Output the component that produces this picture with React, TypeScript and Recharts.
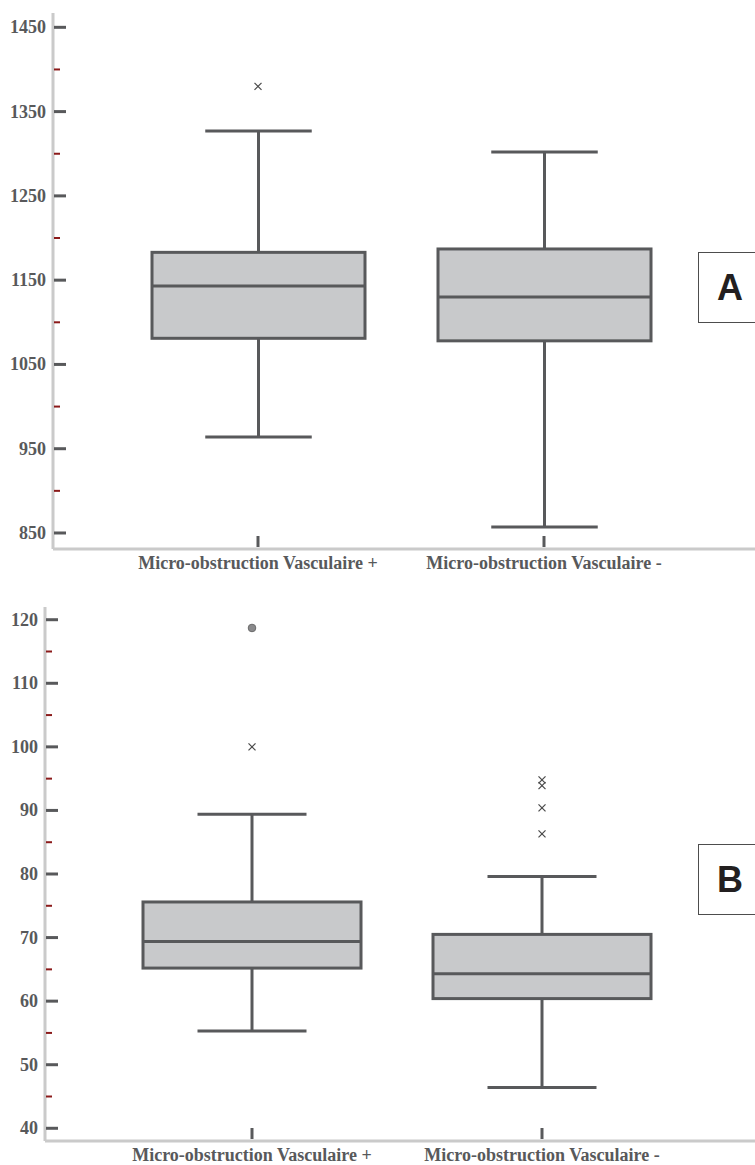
import React from 'react';
import { ComposedChart, Bar, Line, XAxis, YAxis } from 'recharts';

const categories = ['Micro-obstruction Vasculaire +', 'Micro-obstruction Vasculaire -'];

// Chart A
const minA = [964, 857];
const q1A = [1081, 1078];
const medianA = [1143, 1130];
const q3A = [1183, 1187];
const maxA = [1327, 1302];
const crossA: number[][] = [[1380], []];
const circleA: number[][] = [[], []];
const ticksA = [850, 900, 950, 1000, 1050, 1100, 1150, 1200, 1250, 1300, 1350, 1400, 1450];
const majorTicksA = [850, 950, 1050, 1150, 1250, 1350, 1450];
const domainA = [831, 1467];

// Chart B
const minB = [55.3, 46.4];
const q1B = [65.2, 60.4];
const medianB = [69.4, 64.3];
const q3B = [75.6, 70.5];
const maxB = [89.4, 79.6];
const crossB: number[][] = [[100], [94.8, 93.9, 90.4, 86.3]];
const circleB: number[][] = [[118.7], []];
const ticksB = [40, 45, 50, 55, 60, 65, 70, 75, 80, 85, 90, 95, 100, 105, 110, 115, 120];
const majorTicksB = [40, 50, 60, 70, 80, 90, 100, 110, 120];
const domainB = [38, 122];

const STROKE = '#58595b';
const AXIS = '#cacaca';
const FILL = '#c8c9cb';

function buildRows(min: number[], q1: number[], med: number[], q3: number[], max: number[], cross: number[][], circle: number[][]) {
  return categories.map((cat, i) => {
    const row: any = { cat, range: [min[i], max[i]], min: min[i], q1: q1[i], med: med[i], q3: q3[i], max: max[i] };
    for (let k = 0; k < 4; k++) row['x' + k] = cross[i][k] ?? null;
    row.c0 = circle[i][0] ?? null;
    return row;
  });
}

const BoxShape = (props: any) => {
  const { x, y, width, height, payload } = props;
  if (x == null || y == null) return <g />;
  const top = Math.min(y, y + height);
  const h = Math.abs(height);
  const lo = payload.min;
  const hi = payload.max;
  const py = (v: number) => top + ((hi - v) / (hi - lo)) * h;
  const cx = x + width / 2;
  const cap = width / 4;
  const yMax = py(hi), yQ3 = py(payload.q3), yMed = py(payload.med), yQ1 = py(payload.q1), yMin = py(lo);
  return (
    <g>
      <line x1={cx} x2={cx} y1={yMax} y2={yQ3} stroke={STROKE} strokeWidth={3} />
      <line x1={cx} x2={cx} y1={yQ1} y2={yMin} stroke={STROKE} strokeWidth={3} />
      <line x1={cx - cap} x2={cx + cap} y1={yMax} y2={yMax} stroke={STROKE} strokeWidth={3} />
      <line x1={cx - cap} x2={cx + cap} y1={yMin} y2={yMin} stroke={STROKE} strokeWidth={3} />
      <rect x={x} y={yQ3} width={width} height={yQ1 - yQ3} fill={FILL} stroke={STROKE} strokeWidth={3} />
      <line x1={x} x2={x + width} y1={yMed} y2={yMed} stroke={STROKE} strokeWidth={3} />
    </g>
  );
};

const CrossDot = (props: any) => {
  const { cx, cy, value } = props;
  if (value == null || cy == null || Number.isNaN(cy)) return <g key={props.key} />;
  const s = 3.5;
  return (
    <g key={props.key}>
      <line x1={cx - s} x2={cx + s} y1={cy - s} y2={cy + s} stroke="#4a4a4a" strokeWidth={1.2} />
      <line x1={cx - s} x2={cx + s} y1={cy + s} y2={cy - s} stroke="#4a4a4a" strokeWidth={1.2} />
    </g>
  );
};

const CircleDot = (props: any) => {
  const { cx, cy, value } = props;
  if (value == null || cy == null || Number.isNaN(cy)) return <g key={props.key} />;
  return <circle key={props.key} cx={cx} cy={cy} r={3.8} fill="#8a8a8c" stroke="#6a6a6a" strokeWidth={1} />;
};

const makeYTick = (majors: number[]) => (props: any) => {
  const { x, y, payload } = props;
  const isMajor = majors.includes(payload.value);
  if (isMajor) {
    return (
      <g>
        <line x1={x + 1} x2={x + 13} y1={y} y2={y} stroke={STROKE} strokeWidth={3} />
        <text x={x - 7} y={y + 6} textAnchor="end" fontFamily="'Liberation Serif', 'Times New Roman', serif" fontWeight="bold" fontSize={18} fill={STROKE}>
          {payload.value}
        </text>
      </g>
    );
  }
  return <line x1={x + 1} x2={x + 7} y1={y} y2={y} stroke="#8b1a1a" strokeWidth={2} />;
};

const XTick = (props: any) => {
  const { x, y, payload } = props;
  return (
    <g>
      <line x1={x} x2={x} y1={y - 13} y2={y - 2} stroke={STROKE} strokeWidth={3} />
      <text x={x} y={y + 20} textAnchor="middle" fontFamily="'Liberation Serif', 'Times New Roman', serif" fontWeight="bold" fontSize={18} fill={STROKE}>
        {payload.value}
      </text>
    </g>
  );
};

function BoxChart(p: {
  rows: any[]; ticks: number[]; majors: number[]; domain: number[]; height: number; marginTop: number;
  xAxisHeight: number; yAxisWidth: number; barSize: number;
}) {
  return (
    <ComposedChart width={755} height={p.height} data={p.rows} margin={{ top: p.marginTop, right: 0, bottom: 0, left: 0 }}>
      <XAxis
        dataKey="cat"
        type="category"
        allowDuplicatedCategory={false}
        padding={{ left: 62, right: 68 }}
        height={p.xAxisHeight}
        axisLine={{ stroke: AXIS, strokeWidth: 3 }}
        tickLine={false}
        tickSize={0}
        tickMargin={0}
        interval={0}
        tick={<XTick />}
      />
      <YAxis
        type="number"
        domain={p.domain}
        allowDataOverflow
        ticks={p.ticks}
        interval={0}
        width={p.yAxisWidth}
        axisLine={{ stroke: AXIS, strokeWidth: 3 }}
        tickLine={false}
        tickSize={0}
        tickMargin={0}
        tick={makeYTick(p.majors)}
      />
      <Bar dataKey="range" barSize={p.barSize} shape={<BoxShape />} isAnimationActive={false} />
      {['x0', 'x1', 'x2', 'x3'].map((k) => (
        <Line key={k} dataKey={k} stroke="none" dot={CrossDot} activeDot={false} isAnimationActive={false} legendType="none" />
      ))}
      <Line dataKey="c0" stroke="none" dot={CircleDot} activeDot={false} isAnimationActive={false} legendType="none" />
    </ComposedChart>
  );
}

const labelBox = (top: number, letter: string) => (
  <div
    style={{
      position: 'absolute', left: 698, top, width: 64, height: 71, boxSizing: 'border-box',
      border: '1.5px solid #4d4d4d', display: 'flex', alignItems: 'center', justifyContent: 'center',
      fontFamily: "'Liberation Sans', Arial, sans-serif", fontWeight: 'bold', fontSize: 36, color: '#231f20', background: '#fff',
    }}
  >
    {letter}
  </div>
);

export default function App() {
  const rowsA = buildRows(minA, q1A, medianA, q3A, maxA, crossA, circleA);
  const rowsB = buildRows(minB, q1B, medianB, q3B, maxB, crossB, circleB);
  return (
    <div style={{ position: 'absolute', left: 0, top: 0, width: 755, height: 1165, overflow: 'hidden', background: '#fff' }}>
      <div style={{ position: 'absolute', left: 0, top: 0 }}>
        <BoxChart rows={rowsA} ticks={ticksA} majors={majorTicksA} domain={domainA} height={580} marginTop={13} xAxisHeight={31} yAxisWidth={53} barSize={213} />
      </div>
      <div style={{ position: 'absolute', left: 0, top: 580 }}>
        <BoxChart rows={rowsB} ticks={ticksB} majors={majorTicksB} domain={domainB} height={585} marginTop={27} xAxisHeight={24} yAxisWidth={45} barSize={218} />
      </div>
      {labelBox(252, 'A')}
      {labelBox(844, 'B')}
    </div>
  );
}
